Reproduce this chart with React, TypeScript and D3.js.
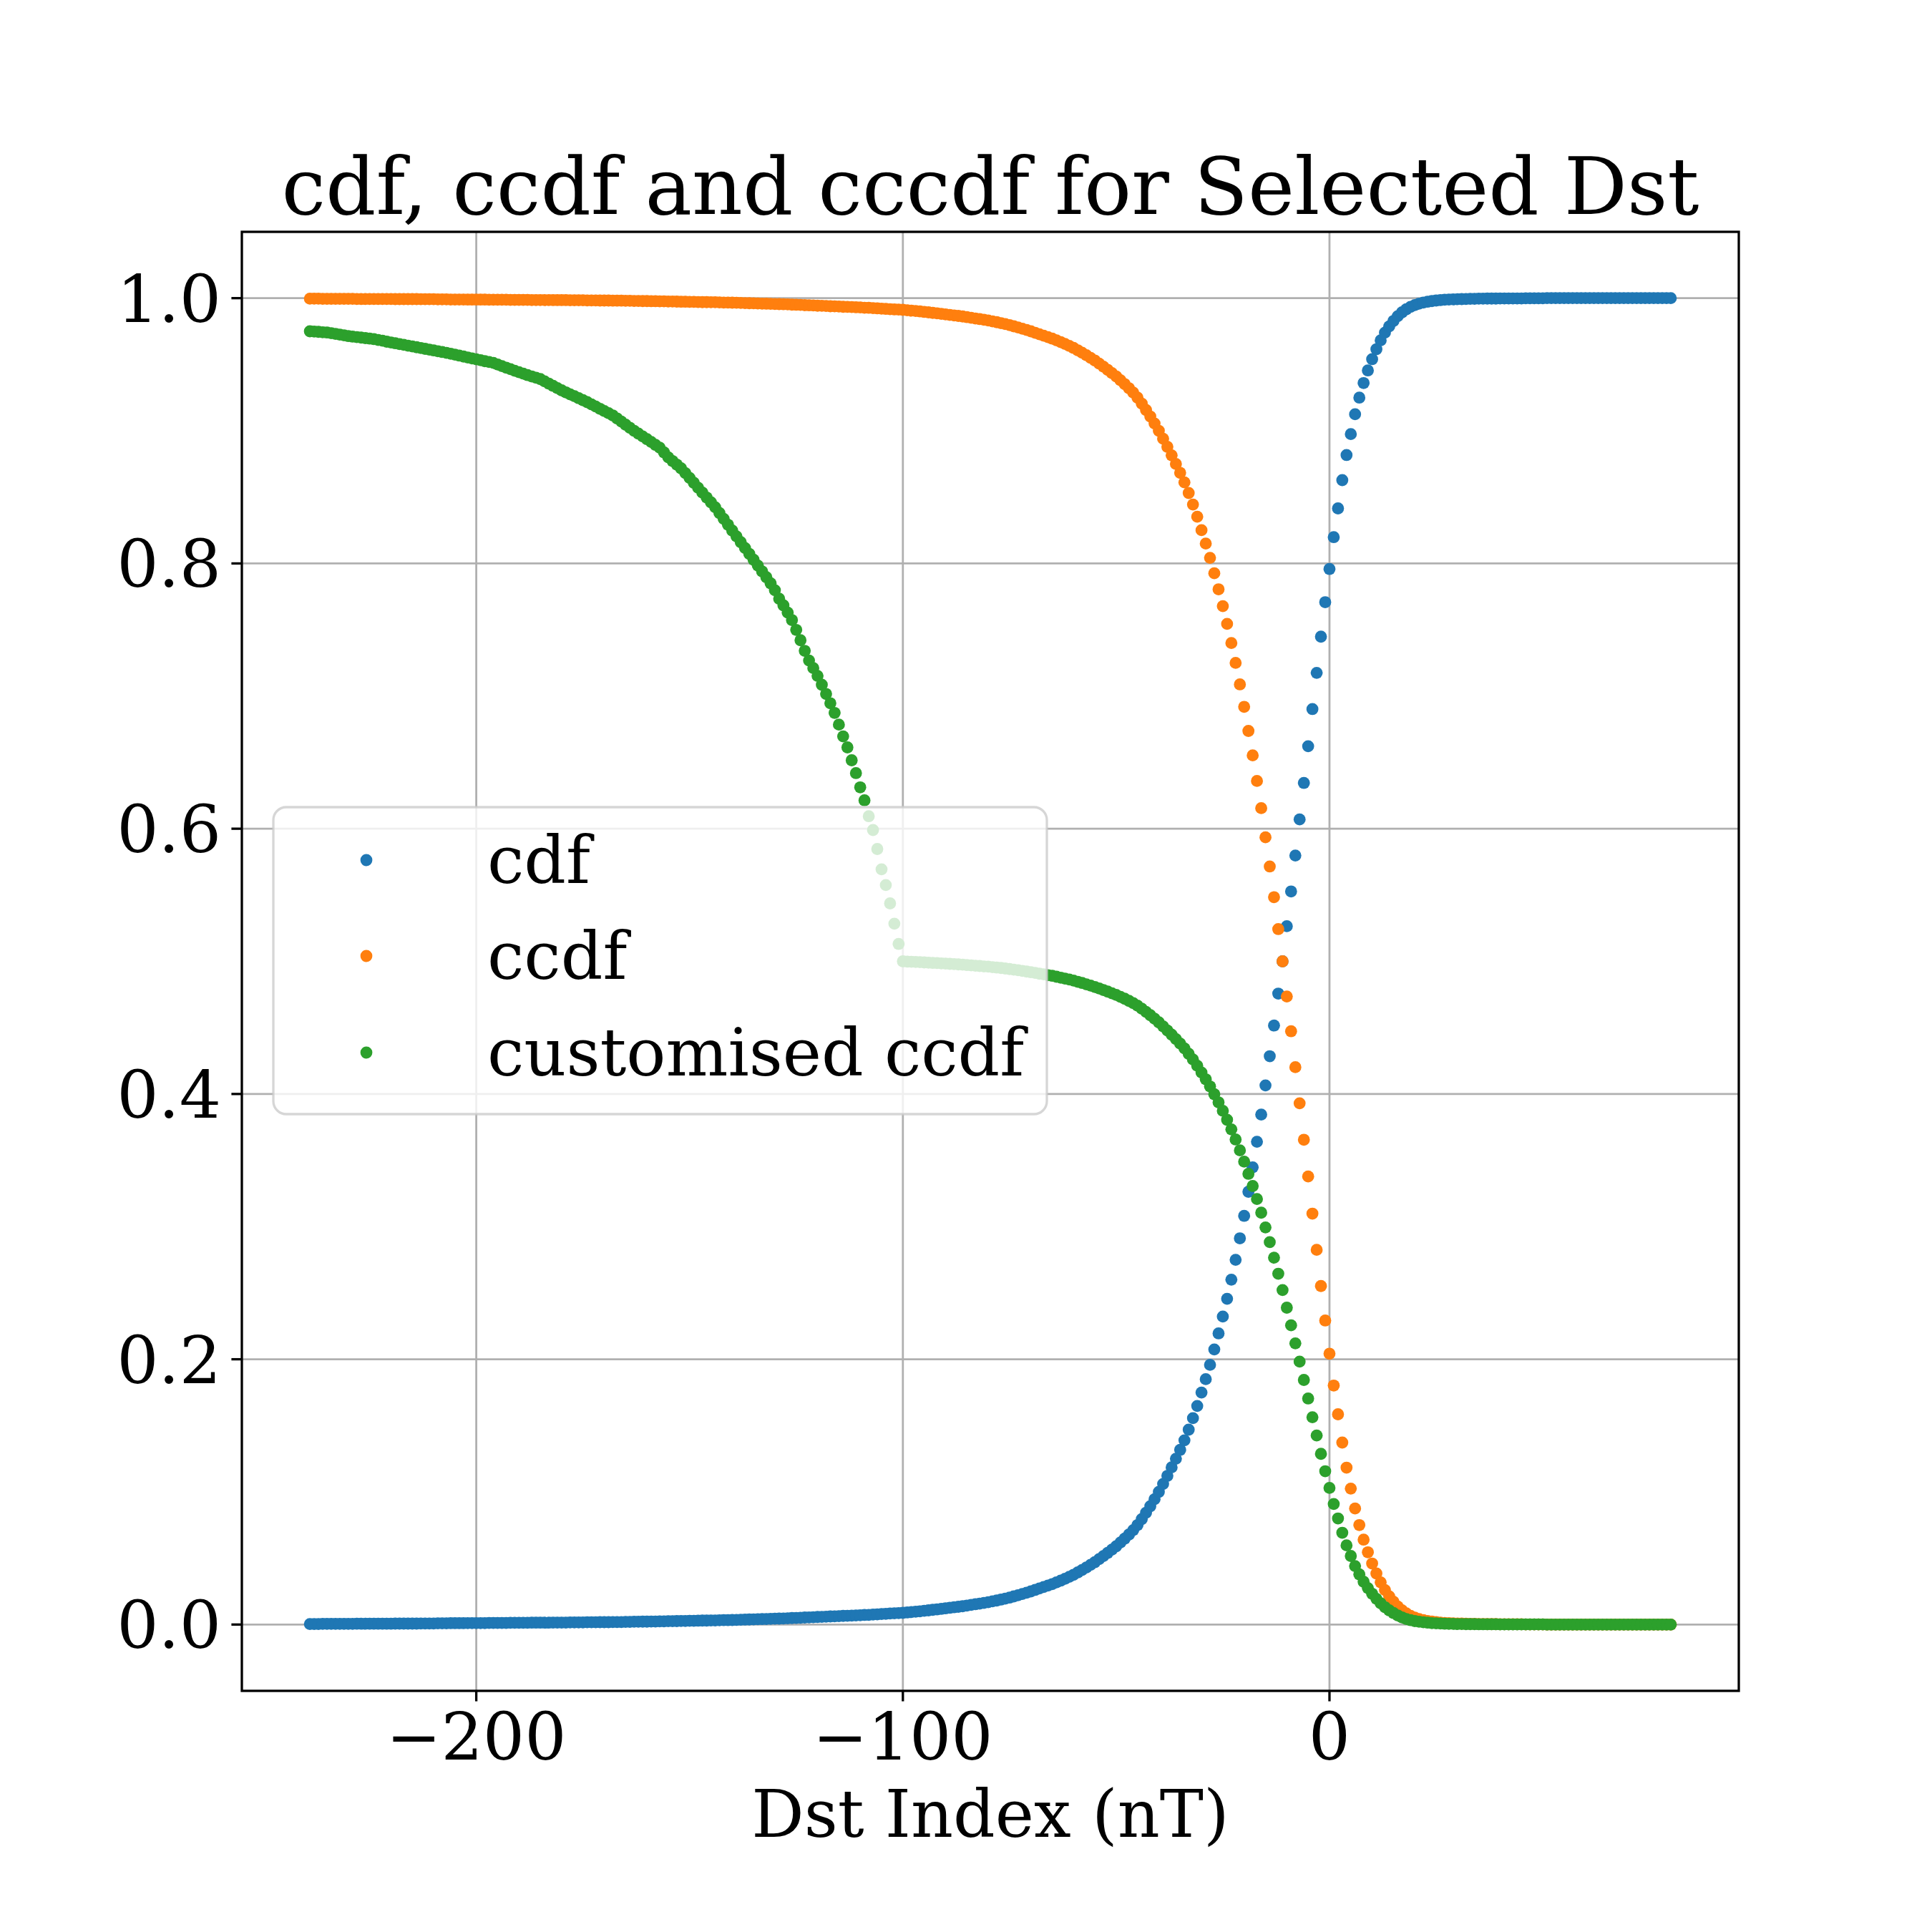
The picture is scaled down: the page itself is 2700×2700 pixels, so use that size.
import React from 'react';
import * as d3 from 'd3';

// Dst index values run from -239 nT to 80 nT in steps of 1 nT
const xStart = -239;

const cdf = [
  0.0004,0.0004,0.0004,0.0005,0.0005,0.0005,0.0005,0.0005,0.0005,0.0005,
  0.0005,0.0006,0.0006,0.0006,0.0006,0.0006,0.0006,0.0006,0.0006,0.0006,
  0.0007,0.0007,0.0007,0.0007,0.0007,0.0007,0.0008,0.0008,0.0008,0.0008,
  0.0009,0.0009,0.0009,0.0010,0.0010,0.0010,0.0010,0.0011,0.0011,0.0011,
  0.0011,0.0011,0.0012,0.0012,0.0012,0.0012,0.0012,0.0013,0.0013,0.0013,
  0.0013,0.0013,0.0014,0.0014,0.0014,0.0014,0.0014,0.0015,0.0015,0.0015,
  0.0015,0.0016,0.0016,0.0016,0.0016,0.0017,0.0017,0.0017,0.0018,0.0018,
  0.0018,0.0019,0.0019,0.0019,0.0020,0.0020,0.0021,0.0021,0.0022,0.0022,
  0.0023,0.0023,0.0024,0.0024,0.0025,0.0025,0.0026,0.0027,0.0027,0.0028,
  0.0028,0.0029,0.0030,0.0030,0.0031,0.0031,0.0032,0.0033,0.0033,0.0034,
  0.0035,0.0036,0.0037,0.0038,0.0039,0.0040,0.0041,0.0042,0.0043,0.0044,
  0.0045,0.0046,0.0047,0.0049,0.0050,0.0051,0.0053,0.0054,0.0055,0.0057,
  0.0058,0.0059,0.0061,0.0062,0.0063,0.0065,0.0066,0.0067,0.0069,0.0070,
  0.0072,0.0073,0.0075,0.0077,0.0079,0.0081,0.0083,0.0085,0.0086,0.0088,
  0.0091,0.0094,0.0097,0.0100,0.0104,0.0107,0.0111,0.0114,0.0118,0.0122,
  0.0126,0.0130,0.0134,0.0138,0.0143,0.0148,0.0153,0.0158,0.0163,0.0168,
  0.0175,0.0181,0.0188,0.0195,0.0203,0.0212,0.0221,0.0230,0.0240,0.0250,
  0.0261,0.0272,0.0283,0.0294,0.0305,0.0318,0.0331,0.0345,0.0360,0.0375,
  0.0393,0.0411,0.0430,0.0450,0.0470,0.0493,0.0516,0.0540,0.0565,0.0590,
  0.0619,0.0648,0.0679,0.0712,0.0750,0.0795,0.0843,0.0892,0.0945,0.1000,
  0.1060,0.1121,0.1185,0.1250,0.1317,0.1389,0.1469,0.1556,0.1648,0.1749,
  0.1850,0.1958,0.2074,0.2195,0.2322,0.2456,0.2600,0.2750,0.2912,0.3081,
  0.3263,0.3447,0.3640,0.3845,0.4065,0.4285,0.4516,0.4757,0.5000,0.5265,
  0.5527,0.5798,0.6070,0.6345,0.6622,0.6902,0.7175,0.7448,0.7708,0.7958,
  0.8198,0.8415,0.8628,0.8817,0.8975,0.9125,0.9250,0.9360,0.9455,0.9540,
  0.9615,0.9682,0.9740,0.9787,0.9828,0.9864,0.9893,0.9916,0.9934,0.9948,
  0.9959,0.9967,0.9973,0.9978,0.9982,0.9985,0.9988,0.9990,0.9991,0.9992,
  0.9993,0.9994,0.9995,0.9995,0.9996,0.9996,0.9997,0.9997,0.9997,0.9998,
  0.9998,0.9998,0.9998,0.9998,0.9998,0.9999,0.9999,0.9999,0.9999,0.9999,
  1,1,1,1,1,1,1,1,1,1,
  1,1,1,1,1,1,1,1,1,1,
  1,1,1,1,1,1,1,1,1,1,
];

const ccdf = [
  0.9996,0.9996,0.9996,0.9995,0.9995,0.9995,0.9995,0.9995,0.9995,0.9995,
  0.9995,0.9994,0.9994,0.9994,0.9994,0.9994,0.9994,0.9994,0.9994,0.9994,
  0.9993,0.9993,0.9993,0.9993,0.9993,0.9993,0.9992,0.9992,0.9992,0.9992,
  0.9991,0.9991,0.9991,0.9990,0.9990,0.9990,0.9990,0.9989,0.9989,0.9989,
  0.9989,0.9989,0.9988,0.9988,0.9988,0.9988,0.9988,0.9987,0.9987,0.9987,
  0.9987,0.9987,0.9986,0.9986,0.9986,0.9986,0.9986,0.9985,0.9985,0.9985,
  0.9985,0.9984,0.9984,0.9984,0.9984,0.9983,0.9983,0.9983,0.9982,0.9982,
  0.9982,0.9981,0.9981,0.9981,0.9980,0.9980,0.9979,0.9979,0.9978,0.9978,
  0.9977,0.9977,0.9976,0.9976,0.9975,0.9975,0.9974,0.9973,0.9973,0.9972,
  0.9972,0.9971,0.9970,0.9970,0.9969,0.9969,0.9968,0.9967,0.9967,0.9966,
  0.9965,0.9964,0.9963,0.9962,0.9961,0.9960,0.9959,0.9958,0.9957,0.9956,
  0.9955,0.9954,0.9953,0.9951,0.9950,0.9949,0.9947,0.9946,0.9945,0.9943,
  0.9942,0.9941,0.9939,0.9938,0.9937,0.9935,0.9934,0.9933,0.9931,0.9930,
  0.9928,0.9927,0.9925,0.9923,0.9921,0.9919,0.9917,0.9915,0.9914,0.9912,
  0.9909,0.9906,0.9903,0.9900,0.9896,0.9893,0.9889,0.9886,0.9882,0.9878,
  0.9874,0.9870,0.9866,0.9862,0.9857,0.9852,0.9847,0.9842,0.9837,0.9832,
  0.9825,0.9819,0.9812,0.9805,0.9797,0.9788,0.9779,0.9770,0.9760,0.9750,
  0.9739,0.9728,0.9717,0.9706,0.9695,0.9682,0.9669,0.9655,0.9640,0.9625,
  0.9607,0.9589,0.9570,0.9550,0.9530,0.9507,0.9484,0.9460,0.9435,0.9410,
  0.9381,0.9352,0.9321,0.9288,0.9250,0.9205,0.9157,0.9108,0.9055,0.9000,
  0.8940,0.8879,0.8815,0.8750,0.8683,0.8611,0.8531,0.8444,0.8352,0.8251,
  0.8150,0.8042,0.7926,0.7805,0.7678,0.7544,0.7400,0.7250,0.7088,0.6919,
  0.6737,0.6553,0.6360,0.6155,0.5935,0.5715,0.5484,0.5243,0.5000,0.4735,
  0.4473,0.4202,0.3930,0.3655,0.3378,0.3098,0.2825,0.2552,0.2292,0.2042,
  0.1802,0.1585,0.1372,0.1183,0.1025,0.0875,0.0750,0.0640,0.0545,0.0460,
  0.0385,0.0318,0.0260,0.0213,0.0172,0.0136,0.0107,0.0084,0.0066,0.0052,
  0.0041,0.0033,0.0027,0.0022,0.0018,0.0015,0.0012,0.0010,0.0009,0.0008,
  0.0007,0.0006,0.0005,0.0005,0.0004,0.0004,0.0003,0.0003,0.0003,0.0002,
  0.0002,0.0002,0.0002,0.0002,0.0002,0.0001,0.0001,0.0001,0.0001,0.0001,
  0,0,0,0,0,0,0,0,0,0,
  0,0,0,0,0,0,0,0,0,0,
  0,0,0,0,0,0,0,0,0,0,
];

const customCcdf = [
  0.9750,0.9748,0.9746,0.9743,0.9741,0.9736,0.9731,0.9725,0.9720,0.9714,
  0.9710,0.9706,0.9703,0.9699,0.9695,0.9691,0.9685,0.9679,0.9672,0.9666,
  0.9660,0.9654,0.9648,0.9642,0.9636,0.9630,0.9624,0.9618,0.9612,0.9606,
  0.9600,0.9594,0.9588,0.9581,0.9574,0.9567,0.9560,0.9553,0.9546,0.9539,
  0.9532,0.9525,0.9519,0.9512,0.9500,0.9488,0.9476,0.9465,0.9453,0.9442,
  0.9431,0.9420,0.9410,0.9400,0.9390,0.9373,0.9356,0.9339,0.9322,0.9305,
  0.9290,0.9275,0.9261,0.9246,0.9231,0.9216,0.9199,0.9183,0.9166,0.9149,
  0.9133,0.9116,0.9093,0.9070,0.9046,0.9023,0.9000,0.8979,0.8958,0.8937,
  0.8916,0.8894,0.8873,0.8837,0.8800,0.8772,0.8745,0.8717,0.8681,0.8645,
  0.8608,0.8571,0.8534,0.8497,0.8461,0.8424,0.8380,0.8336,0.8292,0.8248,
  0.8204,0.8160,0.8116,0.8072,0.8028,0.7984,0.7940,0.7896,0.7850,0.7798,
  0.7734,0.7684,0.7629,0.7573,0.7499,0.7421,0.7341,0.7268,0.7211,0.7152,
  0.7085,0.7016,0.6946,0.6873,0.6785,0.6696,0.6613,0.6516,0.6419,0.6312,
  0.6214,0.6094,0.5990,0.5847,0.5694,0.5575,0.5437,0.5284,0.5131,0.5000,
  0.4998,0.4997,0.4995,0.4994,0.4992,0.4990,0.4988,0.4987,0.4985,0.4983,
  0.4981,0.4979,0.4977,0.4975,0.4972,0.4970,0.4967,0.4965,0.4962,0.4960,
  0.4956,0.4953,0.4950,0.4946,0.4942,0.4937,0.4933,0.4928,0.4923,0.4918,
  0.4913,0.4907,0.4902,0.4896,0.4891,0.4884,0.4877,0.4870,0.4863,0.4855,
  0.4846,0.4837,0.4827,0.4817,0.4807,0.4796,0.4784,0.4772,0.4759,0.4747,
  0.4732,0.4718,0.4702,0.4685,0.4666,0.4643,0.4619,0.4594,0.4568,0.4540,
  0.4510,0.4479,0.4447,0.4414,0.4380,0.4344,0.4303,0.4260,0.4213,0.4162,
  0.4111,0.4057,0.3998,0.3937,0.3873,0.3805,0.3733,0.3657,0.3575,0.3490,
  0.3398,0.3306,0.3208,0.3105,0.2994,0.2883,0.2766,0.2645,0.2522,0.2389,
  0.2256,0.2120,0.1982,0.1844,0.1704,0.1563,0.1425,0.1287,0.1156,0.1030,
  0.0909,0.0800,0.0692,0.0597,0.0517,0.0441,0.0378,0.0323,0.0275,0.0232,
  0.0194,0.0160,0.0131,0.0107,0.0087,0.0069,0.0054,0.0042,0.0033,0.0026,
  0.0021,0.0017,0.0014,0.0011,0.0009,0.0008,0.0006,0.0005,0.0005,0.0004,
  0.0004,0.0003,0.0003,0.0003,0.0002,0.0002,0.0002,0.0002,0.0002,0.0001,
  0.0001,0.0001,0.0001,0.0001,0.0001,0.0001,0.0001,0.0001,0.0001,0.0001,
  0,0,0,0,0,0,0,0,0,0,
  0,0,0,0,0,0,0,0,0,0,
  0,0,0,0,0,0,0,0,0,0,
];

const seriesNames = ['cdf', 'ccdf', 'customised ccdf'];
const seriesColors = ['#1f77b4', '#ff7f0e', '#2ca02c'];
const xTicks = [-200, -100, 0];
const yTicks = [0, 0.2, 0.4, 0.6, 0.8, 1.0];
const titleText = 'cdf, ccdf and cccdf for Selected Dst';
const xLabelText = 'Dst Index (nT)';

const FONT = "'DejaVu Serif', serif";

export default function App() {
  const W = 2700;
  const H = 2700;
  const L = 338, R = 2430, T = 324, B = 2363;

  const xs = cdf.map((_, i) => xStart + i);
  const [xmin, xmax] = d3.extent(xs) as [number, number];
  const pad = (xmax - xmin) * 0.05;
  const x = d3.scaleLinear().domain([xmin - pad, xmax + pad]).range([L, R]);
  const y = d3.scaleLinear().domain([-0.05, 1.05]).range([B, T]);

  const series = [cdf, ccdf, customCcdf];
  const r = 8.4;
  const fmtX = (v: number) => (v < 0 ? '\u2212' + Math.abs(v) : String(v));

  // legend layout
  const lg = { x: 382, y: 1128, w: 1081, h: 429 };
  const rowsY = [1202, 1336, 1471];

  return (
    <svg width={W} height={H} style={{ position: 'absolute', left: 0, top: 0, background: '#fff' }}
      xmlns="http://www.w3.org/2000/svg">
      <rect x={0} y={0} width={W} height={H} fill="#fff" />
      {/* grid */}
      <g stroke="#b0b0b0" strokeWidth={2.8}>
        {xTicks.map(t => (
          <line key={'gx' + t} x1={x(t)} x2={x(t)} y1={T} y2={B} />
        ))}
        {yTicks.map(t => (
          <line key={'gy' + t} x1={L} x2={R} y1={y(t)} y2={y(t)} />
        ))}
      </g>
      {/* points */}
      {series.map((s, si) => (
        <g key={si} fill={seriesColors[si]}>
          {s.map((v, i) => (
            <circle key={i} cx={x(xs[i])} cy={y(v)} r={r} />
          ))}
        </g>
      ))}
      {/* spines */}
      <rect x={L} y={T} width={R - L} height={B - T} fill="none" stroke="#000" strokeWidth={3.3} />
      {/* ticks */}
      <g stroke="#000" strokeWidth={3.3}>
        {xTicks.map(t => (
          <line key={'tx' + t} x1={x(t)} x2={x(t)} y1={B} y2={B + 14.6} />
        ))}
        {yTicks.map(t => (
          <line key={'ty' + t} x1={L} x2={L - 14.6} y1={y(t)} y2={y(t)} />
        ))}
      </g>
      <g fontFamily={FONT} fontSize={91.7} fill="#000">
        {xTicks.map(t => (
          <text key={'lx' + t} x={x(t)} y={B + 29 + 67} textAnchor="middle">{fmtX(t)}</text>
        ))}
        {yTicks.map(t => (
          <text key={'ly' + t} x={L - 29} y={y(t) + 33} textAnchor="end">{t.toFixed(1)}</text>
        ))}
        <text x={(L + R) / 2} y={2567} textAnchor="middle">{xLabelText}</text>
      </g>
      <text x={(L + R) / 2} y={299} textAnchor="middle" fontFamily={FONT} fontSize={110}>{titleText}</text>
      {/* legend */}
      <rect x={lg.x} y={lg.y} width={lg.w} height={lg.h} rx={18} ry={18}
        fill="#fff" fillOpacity={0.8} stroke="#cccccc" strokeOpacity={0.8} strokeWidth={3.3} />
      {seriesNames.map((n, i) => (
        <g key={n}>
          <circle cx={512} cy={rowsY[i]} r={r} fill={seriesColors[i]} />
          <text x={681} y={rowsY[i] + 31.5} fontFamily={FONT} fontSize={91.7}>{n}</text>
        </g>
      ))}
    </svg>
  );
}
